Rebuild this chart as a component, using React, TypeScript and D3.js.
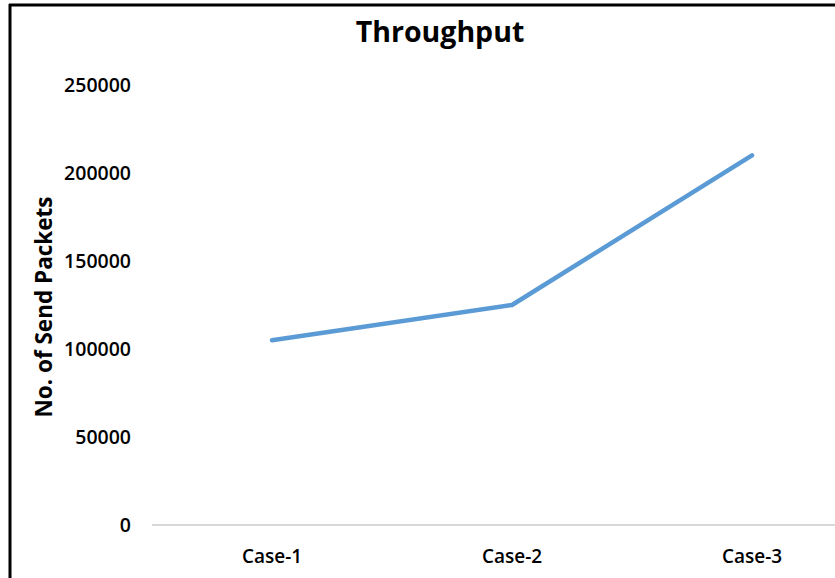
import React from "react";
import * as d3 from "d3";

const categories: string[] = ["Case-1", "Case-2", "Case-3"];
const sendPackets: number[] = [105000, 125000, 210000];
const yTicks: number[] = [0, 50000, 100000, 150000, 200000, 250000];

const W = 835;
const H = 578;
const FONT = "'Open Sans', 'DejaVu Sans', sans-serif";

export default function App() {
  const x = d3.scaleBand<string>().domain(categories).range([152, 872]).padding(0);
  const y = d3.scaleLinear().domain([0, 250000]).range([525, 85]);

  const line = d3
    .line<number>()
    .x((_, i) => (x(categories[i]) as number) + x.bandwidth() / 2)
    .y((d) => y(d));

  return (
    <svg
      width={W}
      height={H}
      style={{ position: "fixed", left: 0, top: 0, background: "#fff" }}
    >
      <rect x={0} y={0} width={W} height={H} fill="#fff" />
      {/* frame */}
      <line x1={9} x2={W} y1={5} y2={5} stroke="#000" strokeWidth={3} />
      <line x1={10} x2={10} y1={4} y2={H} stroke="#000" strokeWidth={3} />

      <text
        x={440}
        y={42}
        textAnchor="middle"
        fontFamily={FONT}
        fontWeight={700}
        fontSize={28.5}
        fill="#000"
      >
        Throughput
      </text>

      {/* baseline */}
      <line x1={152} x2={W} y1={y(0)} y2={y(0)} stroke="#d9d9d9" strokeWidth={2} />

      {yTicks.map((t) => (
        <text
          key={t}
          x={131}
          y={y(t)}
          dy="0.35em"
          textAnchor="end"
          fontFamily={FONT}
          fontWeight={600}
          fontSize={19.5}
          fill="#000"
        >
          {t}
        </text>
      ))}

      {categories.map((c) => (
        <text
          key={c}
          x={(x(c) as number) + x.bandwidth() / 2}
          y={556}
          dy="0.35em"
          textAnchor="middle"
          fontFamily={FONT}
          fontWeight={600}
          fontSize={19}
          fill="#000"
        >
          {c}
        </text>
      ))}

      <text
        transform={`translate(52, 307) rotate(-90)`}
        textAnchor="middle"
        fontFamily={FONT}
        fontWeight={700}
        fontSize={22.5}
        fill="#000"
      >
        No. of Send Packets
      </text>

      <path
        d={line(sendPackets) || ""}
        fill="none"
        stroke="#5b9bd5"
        strokeWidth={4.5}
        strokeLinecap="round"
        strokeLinejoin="round"
      />
    </svg>
  );
}
